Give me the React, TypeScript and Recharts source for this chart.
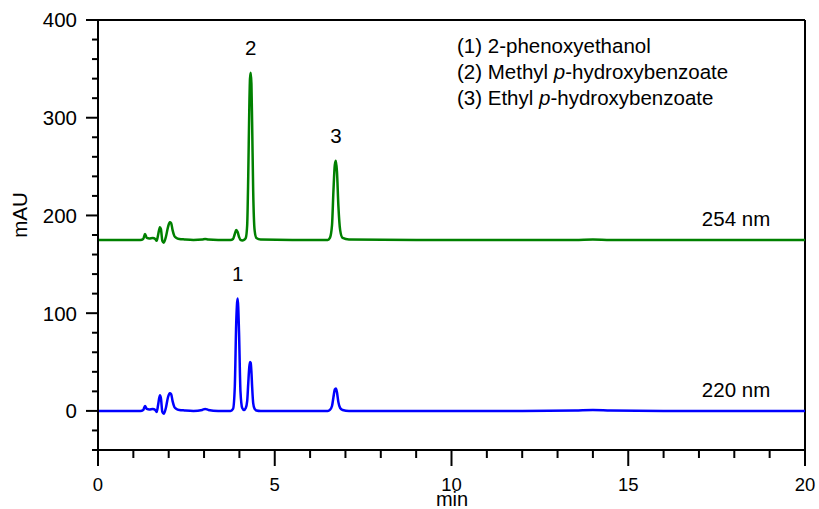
import React from 'react';
import { LineChart, Line, XAxis, YAxis, ReferenceLine, ReferenceDot } from 'recharts';

// retention time (min), shared by both traces
const timeMin = [
  0, 1.2, 1.28, 1.33, 1.38, 1.45, 1.55, 1.62, 1.66, 1.7, 1.75, 1.78, 1.82, 1.86, 1.92, 1.98,
  2.03, 2.07, 2.11, 2.16, 2.22, 2.3, 2.45, 2.7, 2.95, 3.03, 3.12, 3.4, 3.75, 3.82, 3.87, 3.91,
  3.95, 3.99, 4.03, 4.08, 4.13, 4.18, 4.22, 4.25, 4.28, 4.3, 4.32, 4.34, 4.36, 4.39, 4.43, 4.48,
  4.6, 5.5, 6.5, 6.56, 6.62, 6.66, 6.7, 6.73, 6.76, 6.8, 6.85, 6.92, 7.1, 9, 12, 13.5,
  14, 14.5, 16, 20,
];

// 254 nm trace (offset baseline ~175 mAU)
const mau254 = [
  175, 175, 176, 181, 177, 176.5, 177, 176, 174, 180, 188, 186, 174, 172, 178, 188,
  193, 192, 185, 179, 177, 176, 175.5, 175, 175.5, 176, 175.5, 175, 175, 176, 181, 185,
  183, 178, 175, 174.5, 175, 177, 190, 240, 310, 340, 346, 335, 295, 225, 185, 177,
  175.5, 175, 175, 177, 190, 225, 252, 256, 245, 210, 185, 177, 175.5, 175, 175, 175,
  175.5, 175, 175, 175,
];

// 220 nm trace
const mau220 = [
  0, 0, 1, 5, 2, 1.5, 2, 1, -1, 6, 16, 13, -1, -3, 3, 14,
  18, 17, 10, 4, 2, 1, 0.5, 0, 1, 2, 1, 0, 0, 2, 25, 90,
  115, 80, 20, 3, 1, 3, 10, 28, 45, 50, 49, 40, 25, 8, 2, 0.5,
  0, 0, 0, 1, 5, 14, 22, 23, 19, 9, 3, 1, 0, 0, 0, 0.5,
  1, 0.5, 0, 0,
];

const xTicks = [0, 1, 2, 3, 4, 5, 6, 7, 8, 9, 10, 11, 12, 13, 14, 15, 16, 17, 18, 19, 20];
const yTicks = [-40, -20, 0, 20, 40, 60, 80, 100, 120, 140, 160, 180, 200, 220, 240, 260, 280, 300, 320, 340, 360, 380, 400];

const peakLabels = [
  { name: '1', t: 3.95, v: 115 },
  { name: '2', t: 4.32, v: 346 },
  { name: '3', t: 6.73, v: 256 },
];

const traceLabels = [
  { name: '254 nm', t: 18.05, v: 175 },
  { name: '220 nm', t: 18.05, v: 0 },
];

const legendLines = ['2-phenoxyethanol', 'Methyl ', 'Ethyl '];

const data = timeMin.map((t, i) => ({ t, a: mau254[i], b: mau220[i] }));

const FONT = "'Liberation Sans', Arial, sans-serif";
const NARROW = "'Liberation Sans Narrow', 'Arial Narrow', 'Liberation Sans', sans-serif";
const FS = 20.5;

const YTick = (props: any) => {
  const { x, y, payload } = props;
  const major = payload.value % 100 === 0;
  return (
    <g>
      <line x1={x} x2={x - (major ? 12 : 6)} y1={y} y2={y} stroke="#000" strokeWidth={2} />
      {major && (
        <text x={x - 21} y={y} dy="0.36em" textAnchor="end" fontSize={FS} fontFamily={FONT} fill="#000">
          {payload.value}
        </text>
      )}
    </g>
  );
};

const XTick = (props: any) => {
  const { x, y, payload } = props;
  const major = payload.value % 5 === 0;
  return (
    <g>
      <line x1={x} x2={x} y1={y} y2={y + (major ? 16 : 8)} stroke="#000" strokeWidth={2} />
      {major && (
        <text x={x} y={y + 41} textAnchor="middle" fontSize={18.5} fontFamily={NARROW} fill="#000">
          {payload.value}
        </text>
      )}
    </g>
  );
};

export default function App() {
  return (
    <div style={{ position: 'absolute', left: 0, top: 0, width: 819, height: 509, background: '#fff' }}>
      <LineChart width={819} height={509} data={data} margin={{ top: 20, right: 14, bottom: 0, left: 0 }}>
        <XAxis
          dataKey="t"
          type="number"
          domain={[0, 20]}
          ticks={xTicks}
          interval={0}
          tickSize={0}
          tickMargin={0}
          tickLine={false}
          tick={<XTick />}
          height={59}
          axisLine={{ stroke: '#000', strokeWidth: 2 }}
          allowDataOverflow
        />
        <YAxis
          type="number"
          domain={[-40, 400]}
          ticks={yTicks}
          interval={0}
          tickSize={0}
          tickMargin={0}
          tickLine={false}
          tick={<YTick />}
          width={98}
          axisLine={{ stroke: '#000', strokeWidth: 2 }}
          allowDataOverflow
        />
        <ReferenceLine y={400} stroke="#000" strokeWidth={2} />
        <ReferenceLine x={20} stroke="#000" strokeWidth={2} />
        <Line type="monotone" dataKey="a" stroke="#008000" strokeWidth={2.5} dot={false} isAnimationActive={false} />
        <Line type="monotone" dataKey="b" stroke="#0000ff" strokeWidth={2.5} dot={false} isAnimationActive={false} />
        {peakLabels.map((p) => (
          <ReferenceDot
            key={p.name}
            x={p.t}
            y={p.v}
            r={0}
            stroke="none"
            fill="none"
            label={{ value: p.name, position: 'top', offset: 18, fill: '#000', fontSize: FS, fontFamily: FONT }}
          />
        ))}
        {traceLabels.map((p) => (
          <ReferenceDot
            key={p.name}
            x={p.t}
            y={p.v}
            r={0}
            stroke="none"
            fill="none"
            label={{ value: p.name, position: 'top', offset: 14, fill: '#000', fontSize: FS, fontFamily: FONT }}
          />
        ))}
      </LineChart>
      <div
        style={{
          position: 'absolute',
          left: 457,
          top: 33,
          fontFamily: FONT,
          fontSize: FS,
          lineHeight: '26px',
          color: '#000',
          whiteSpace: 'nowrap',
        }}
      >
        <div>(1) {legendLines[0]}</div>
        <div>
          (2) {legendLines[1]}
          <i>p</i>-hydroxybenzoate
        </div>
        <div>
          (3) {legendLines[2]}
          <i>p</i>-hydroxybenzoate
        </div>
      </div>
      <div
        style={{
          position: 'absolute',
          left: 20,
          top: 215,
          transform: 'translate(-50%, -50%) rotate(-90deg)',
          fontFamily: FONT,
          fontSize: FS,
          color: '#000',
        }}
      >
        mAU
      </div>
      <div
        style={{
          position: 'absolute',
          left: 452,
          top: 499,
          transform: 'translate(-50%, -50%)',
          fontFamily: NARROW,
          fontSize: 20,
          lineHeight: '20px',
          color: '#000',
        }}
      >
        min
      </div>
    </div>
  );
}
